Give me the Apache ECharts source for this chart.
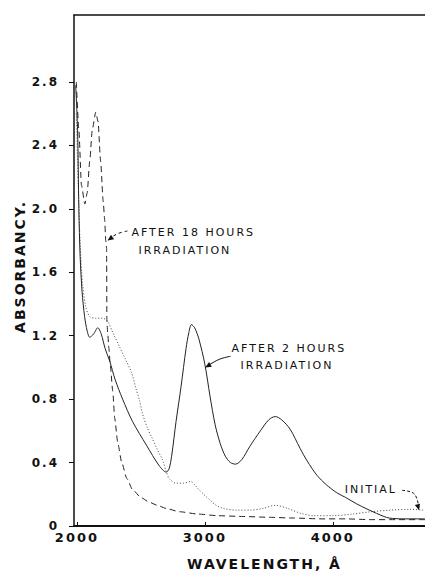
<!DOCTYPE html>
<html>
<head>
<meta charset="utf-8">
<script src="https://cdn.jsdelivr.net/npm/echarts@6/dist/echarts.min.js"></script>
<style>
  html, body { margin: 0; padding: 0; background: #fff; overflow: hidden; }
  #chart { width: 425px; height: 576px; }
  #chart text { letter-spacing: 2px; }
</style>
</head>
<body>
<div id="chart"></div>
<script>
// ---- data ----
const xTicks = [2000, 3000, 4000];
const yTicks = [0, 0.4, 0.8, 1.2, 1.6, 2.0, 2.4, 2.8];

// INITIAL (dotted)
const waveInitial = [1995, 2010, 2025, 2045, 2070, 2100, 2150, 2200, 2240, 2280, 2333, 2380, 2426, 2460, 2490, 2512, 2550, 2590, 2630, 2667, 2700, 2721, 2775, 2830, 2891, 2920, 2953, 2990, 3031, 3090, 3147, 3250, 3357, 3450, 3550, 3650, 3750, 3850, 4000, 4150, 4300, 4450, 4600, 4721];
const absInitial  = [2.60, 2.15, 1.78, 1.52, 1.38, 1.32, 1.31, 1.31, 1.29, 1.22, 1.13, 1.05, 0.97, 0.87, 0.79, 0.71, 0.62, 0.55, 0.48, 0.42, 0.34, 0.30, 0.27, 0.27, 0.28, 0.26, 0.23, 0.20, 0.17, 0.13, 0.11, 0.10, 0.10, 0.11, 0.13, 0.11, 0.08, 0.065, 0.065, 0.075, 0.09, 0.10, 0.105, 0.10];

// AFTER 2 HOURS IRRADIATION (solid)
const wave2h = [1990, 2005, 2015, 2025, 2040, 2060, 2080, 2100, 2130, 2163, 2190, 2220, 2256, 2300, 2357, 2434, 2543, 2643, 2698, 2720, 2740, 2775, 2814, 2853, 2875, 2895, 2920, 2953, 3000, 3040, 3080, 3120, 3160, 3200, 3240, 3290, 3350, 3434, 3500, 3550, 3600, 3667, 3744, 3800, 3876, 3950, 4031, 4100, 4186, 4260, 4341, 4400, 4442, 4550, 4721];
const abs2h  = [2.78, 2.50, 2.00, 1.70, 1.48, 1.32, 1.23, 1.19, 1.21, 1.25, 1.21, 1.12, 1.04, 0.92, 0.80, 0.66, 0.51, 0.38, 0.34, 0.36, 0.44, 0.66, 0.88, 1.12, 1.22, 1.27, 1.25, 1.18, 1.02, 0.82, 0.64, 0.52, 0.44, 0.40, 0.39, 0.42, 0.50, 0.60, 0.67, 0.69, 0.67, 0.61, 0.49, 0.41, 0.32, 0.26, 0.21, 0.18, 0.14, 0.11, 0.08, 0.06, 0.05, 0.045, 0.045];

// AFTER 18 HOURS IRRADIATION (dashed)
const wave18h = [1995, 2015, 2035, 2062, 2080, 2100, 2120, 2147, 2165, 2185, 2205, 2217, 2225, 2232, 2234, 2240, 2250, 2260, 2280, 2295, 2320, 2350, 2390, 2434, 2500, 2566, 2630, 2700, 2800, 2950, 3100, 3300, 3500, 3700, 3900, 4100, 4300, 4500, 4721];
const abs18h  = [2.80, 2.50, 2.15, 2.03, 2.10, 2.30, 2.50, 2.61, 2.55, 2.30, 2.05, 1.93, 1.80, 1.75, 1.30, 1.22, 1.12, 1.02, 0.85, 0.68, 0.52, 0.40, 0.30, 0.23, 0.18, 0.15, 0.13, 0.11, 0.09, 0.075, 0.065, 0.06, 0.055, 0.05, 0.045, 0.045, 0.04, 0.04, 0.04];

const zip = (xs, ys) => xs.map((x, i) => [x, ys[i]]);

const FONT = '"DejaVu Sans", "Liberation Sans", sans-serif';
const INK = '#111';

const chart = echarts.init(document.getElementById('chart'), null, { renderer: 'svg' });

chart.setOption({
  animation: false,
  backgroundColor: '#fff',
  grid: { left: 74, right: -3, top: 15, bottom: 50, containLabel: false },
  xAxis: [{
    type: 'value', min: 1977, max: 4721,
    axisLine: { show: true, onZero: false, lineStyle: { color: INK, width: 2 } },
    axisTick: { show: true, inside: true, length: 4, customValues: xTicks, lineStyle: { color: INK, width: 1 } },
    axisLabel: { customValues: xTicks, color: INK, fontFamily: FONT, fontSize: 13, fontWeight: 'bold', margin: 5,
                 formatter: v => String(v) },
    splitLine: { show: false },
    name: 'WAVELENGTH, Å', nameLocation: 'middle', nameGap: 31,
    nameTextStyle: { color: INK, fontFamily: FONT, fontSize: 14, fontWeight: 'bold', padding: [0, 0, 0, 30] }
  }, {
    type: 'value', min: 1977, max: 4721, position: 'top',
    axisLine: { show: true, onZero: false, lineStyle: { color: INK, width: 1.5 } },
    axisTick: { show: false }, axisLabel: { show: false }, splitLine: { show: false }
  }],
  yAxis: {
    type: 'value', min: 0, max: 3.222,
    axisLine: { show: true, onZero: false, lineStyle: { color: INK, width: 1.5 } },
    axisTick: { show: true, inside: false, length: 5, customValues: yTicks, lineStyle: { color: INK, width: 1 } },
    axisLabel: { customValues: yTicks, color: INK, fontFamily: FONT, fontSize: 12, fontWeight: 'bold', margin: 15,
                 formatter: v => (v === 0 ? '0' : v.toFixed(1)) },
    splitLine: { show: false },
    name: 'ABSORBANCY.', nameLocation: 'middle', nameRotate: 90, nameGap: 44,
    nameTextStyle: { color: INK, fontFamily: FONT, fontSize: 14, fontWeight: 'bold', padding: [0, 0, 0, 8] }
  },
  series: [
    { name: 'INITIAL', type: 'line', data: zip(waveInitial, absInitial), showSymbol: false,
      smooth: 0.3, clip: true,
      lineStyle: { color: '#444', width: 1, type: [1, 2] } },
    { name: 'AFTER 2 HOURS IRRADIATION', type: 'line', data: zip(wave2h, abs2h), showSymbol: false,
      smooth: 0.3, clip: true,
      lineStyle: { color: '#222', width: 1 } },
    { name: 'AFTER 18 HOURS IRRADIATION', type: 'line', data: zip(wave18h, abs18h), showSymbol: false,
      smooth: 0.2, smoothMonotone: 'x', clip: true,
      lineStyle: { color: '#222', width: 1, type: [6, 4] } }
  ]
});

// ---- annotations, anchored in data coordinates ----
const P = (x, y) => chart.convertToPixel({ xAxisIndex: 0, yAxisIndex: 0 }, [x, y]);
const txt = (x, y, s) => {
  const p = P(x, y);
  return { type: 'text', x: p[0], y: p[1], silent: true,
           style: { text: s, fill: INK, font: '11px ' + FONT, textAlign: 'left', textVerticalAlign: 'middle' } };
};
const arrowHead = (from, to, size) => {
  const a = P(from[0], from[1]), b = P(to[0], to[1]);
  const dx = b[0] - a[0], dy = b[1] - a[1];
  const L = Math.hypot(dx, dy) || 1;
  const ux = dx / L, uy = dy / L;
  const bx = b[0] - ux * size, by = b[1] - uy * size;
  const w = size * 0.45;
  return { type: 'polygon', silent: true,
           shape: { points: [[b[0], b[1]], [bx - uy * w, by + ux * w], [bx + uy * w, by - ux * w]] },
           style: { fill: INK } };
};
const path = (pts, dash) => ({ type: 'polyline', silent: true,
  shape: { points: pts.map(q => P(q[0], q[1])), smooth: 0.4 },
  style: { stroke: INK, lineWidth: 1, fill: null, lineDash: dash || null } });

const arrow18 = [[2395, 1.86], [2310, 1.84], [2240, 1.80]];
const arrow2h = [[3202, 1.07], [3110, 1.05], [3003, 1.00]];
const arrowInit = [[4543, 0.225], [4640, 0.20], [4674, 0.10]];

chart.setOption({
  graphic: [
    txt(2426, 1.85, 'AFTER 18 HOURS'),
    txt(2481, 1.74, 'IRRADIATION'),
    txt(3209, 1.12, 'AFTER 2 HOURS'),
    txt(3279, 1.015, 'IRRADIATION'),
    txt(4093, 0.233, 'INITIAL'),
    path(arrow18, [3, 3]), arrowHead(arrow18[1], arrow18[2], 6),
    path(arrow2h), arrowHead(arrow2h[1], arrow2h[2], 6),
    path(arrowInit, [3, 2]), arrowHead(arrowInit[1], arrowInit[2], 6)
  ]
});
</script>
</body>
</html>
